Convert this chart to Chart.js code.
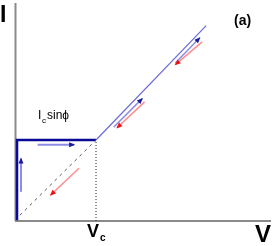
<!DOCTYPE html>
<html>
<head>
<meta charset="utf-8">
<script src="https://cdn.jsdelivr.net/npm/chart.js@4"></script>
<style>
  body { margin: 0; background: #fff; }
  canvas { display: block; }
</style>
</head>
<body>
<canvas id="chart" width="273" height="246"></canvas>
<script>
// units: Vc = 1 on x, Ic sin(phi) = 1 on y
const xMax = 3.16, yMax = 2.69;
const boxX = [0.025, 0.025, 1];
const boxY = [0.01, 1, 1];
const dashX = [0.06, 1];
const dashY = [0.07, 1];
const dropX = [1, 1];
const dropY = [0, 1];
const ohmX = [1, 2.36];
const ohmY = [1, 2.41];
// arrows: tail -> head
const upX = [0.074, 0.074], upY = [0.36, 0.77];
const rightX = [0.28, 0.73], rightY = [0.94, 0.94];
const downX = [0.79, 0.44], downY = [0.65, 0.32];
const midUpX = [1.22, 1.57], midUpY = [1.16, 1.51];
const midDownX = [1.60, 1.26], midDownY = [1.47, 1.15];
const topUpX = [1.98, 2.28], topUpY = [1.95, 2.26];
const topDownX = [2.31, 1.98], topDownY = [2.21, 1.93];

function pts(xs, ys) { return xs.map((x, i) => ({ x: x, y: ys[i] })); }

function line(xs, ys, color, width, dash) {
    return { data: pts(xs, ys), showLine: true, borderColor: color, borderWidth: width,
             borderDash: dash || [], pointRadius: 0, clip: false, tension: 0 };
}
function arrow(xs, ys, shaft, head, width) {
    const d = line(xs, ys, shaft, width);
    d.headColor = head;
    return d;
}

const heads = {
    id: 'heads',
    beforeDatasetsDraw(chart) {
        const a = chart.chartArea, c = chart.ctx;
        c.save();
        c.strokeStyle = '#8a8a8a';
        c.lineWidth = 2;
        c.beginPath();
        c.moveTo(a.left + 0.5, a.top);
        c.lineTo(a.left + 0.5, a.bottom);
        c.moveTo(a.left, a.bottom);
        c.lineTo(a.right, a.bottom);
        c.stroke();
        c.restore();
    },
    afterDatasetsDraw(chart) {
        const c = chart.ctx;
        chart.data.datasets.forEach(function(ds, i) {
            if (!ds.headColor) return;
            const m = chart.getDatasetMeta(i).data;
            const p1 = m[m.length - 2], p2 = m[m.length - 1];
            const ang = Math.atan2(p2.y - p1.y, p2.x - p1.x);
            c.save();
            c.translate(p2.x, p2.y);
            c.rotate(ang);
            c.fillStyle = ds.headColor;
            c.beginPath();
            c.moveTo(1, 0);
            c.lineTo(-5, -2.5);
            c.lineTo(-5, 2.5);
            c.closePath();
            c.fill();
            c.restore();
        });
        // labels
        c.save();
        c.fillStyle = '#000';
        c.textBaseline = 'alphabetic';
        c.font = 'bold 23px "Liberation Sans", Arial, sans-serif';
        c.fillText('I', 0, 22);
        c.font = 'bold 24px "Liberation Sans", Arial, sans-serif';
        c.fillText('V', 255, 242);
        c.font = 'bold 18px "Liberation Sans", Arial, sans-serif';
        c.fillText('V', 87, 237);
        c.font = 'bold 10px "Liberation Sans", Arial, sans-serif';
        c.fillText('c', 100, 241);
        c.font = 'bold 14px "Liberation Sans", Arial, sans-serif';
        c.fillText('(a)', 234, 25);
        c.font = '12px "Liberation Sans", Arial, sans-serif';
        c.fillText('I', 38, 119);
        c.fillText('sin\u03d5', 47, 119);
        c.font = '8px "Liberation Sans", Arial, sans-serif';
        c.fillText('c', 42, 123);
        c.restore();
    }
};

new Chart(document.getElementById('chart'), {
    type: 'scatter',
    data: {
        datasets: [
            line(dashX, dashY, '#555555', 1, [3, 4]),
            line(dropX, dropY, '#222222', 1, [1, 2]),
            line(ohmX, ohmY, '#6a6ad8', 1.2),
            line(boxX, boxY, '#0a0a96', 2.5),
            arrow(upX, upY, '#8c8ce6', '#1a1a9a', 2),
            arrow(rightX, rightY, '#8c8ce6', '#1a1a9a', 2),
            arrow(downX, downY, '#ff8c8c', '#ee1111', 1.5),
            arrow(midUpX, midUpY, '#8c8ce6', '#1a1a9a', 1.5),
            arrow(midDownX, midDownY, '#ff8c8c', '#ee1111', 1.5),
            arrow(topUpX, topUpY, '#8c8ce6', '#1a1a9a', 1.5),
            arrow(topDownX, topDownY, '#ff8c8c', '#ee1111', 1.5)
        ]
    },
    options: {
        responsive: false,
        animation: false,
        devicePixelRatio: 1,
        layout: { padding: { left: 15, top: 3, right: 2, bottom: 25 } },
        plugins: { legend: { display: false }, tooltip: { enabled: false } },
        scales: {
            x: { type: 'linear', min: 0, max: xMax, display: false },
            y: { type: 'linear', min: 0, max: yMax, display: false }
        }
    },
    plugins: [heads]
});
</script>
</body>
</html>
